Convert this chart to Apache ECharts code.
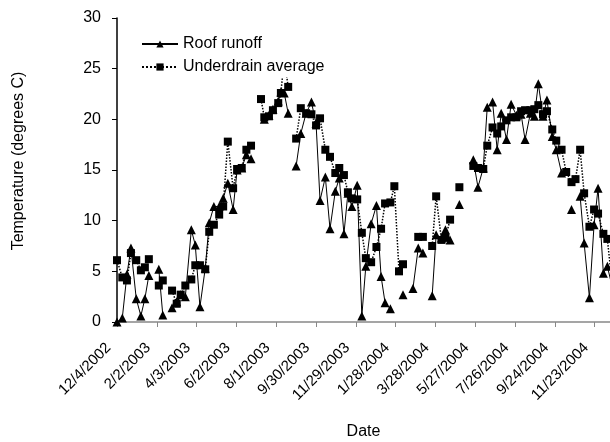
<!DOCTYPE html>
<html>
<head>
<meta charset="utf-8">
<script src="https://cdn.jsdelivr.net/npm/echarts@6/dist/echarts.min.js"></script>
<style>
  html, body { margin: 0; padding: 0; background: #fff; }
  #chart { width: 610px; height: 442px; }
</style>
</head>
<body>
<div id="chart"></div>
<script>
// sampling dates (null rows = breaks in the lines)
const dates = [
  '12/4/2002', '12/12/2002', '12/19/2002', '12/25/2002', '1/2/2003', '1/9/2003', '1/15/2003', '1/21/2003', '1/28/2003',
  '2/5/2003', '2/11/2003', '2/19/2003', '2/25/2003', '3/4/2003', '3/10/2003', '3/17/2003', '3/26/2003', '4/1/2003',
  '4/8/2003', '4/16/2003', '4/22/2003', '4/29/2003', '5/7/2003', '5/13/2003', '5/20/2003', '5/28/2003', '6/3/2003',
  '6/10/2003', '6/17/2003', '6/24/2003', '7/1/2003', '7/9/2003', '7/14/2003', '7/21/2003', '7/27/2003', '8/4/2003',
  '8/8/2003', '8/13/2003', '8/19/2003', '8/25/2003', '8/31/2003', '9/7/2003', '9/15/2003', '9/23/2003', '9/30/2003',
  '10/6/2003', '10/14/2003', '10/21/2003', '10/29/2003', '11/4/2003', '11/11/2003', '11/17/2003', '11/23/2003', '12/1/2003',
  '12/8/2003', '12/14/2003', '12/22/2003', '12/30/2003', '1/6/2004', '1/12/2004', '1/20/2004', '1/26/2004', '2/2/2004',
  '2/8/2004', '2/16/2004', '2/23/2004', '3/2/2004', '3/9/2004', '3/15/2004', '3/23/2004', '3/29/2004', '4/6/2004',
  '4/12/2004', '4/19/2004', '4/27/2004', '5/3/2004', '5/13/2004', '5/24/2004', '5/31/2004', '6/8/2004', '6/14/2004',
  '6/22/2004', '6/29/2004', '7/5/2004', '7/13/2004', '7/20/2004', '7/28/2004', '8/4/2004', '8/10/2004', '8/18/2004',
  '8/24/2004', '8/30/2004', '9/6/2004', '9/12/2004', '9/20/2004', '9/26/2004', '10/4/2004', '10/11/2004', '10/19/2004',
  '10/25/2004', '11/1/2004', '11/7/2004', '11/15/2004', '11/22/2004', '11/28/2004', '12/6/2004', '12/12/2004', '12/21/2004'
]

const roofRunoff = [
  0.0, 0.4, 4.7, 7.3, 2.3, 0.6, 2.3, 4.6, null,
  5.2, 0.7, null, 1.4, 2.0, 2.7, 2.5, 9.1, 7.6,
  1.5, 5.3, 9.8, 11.4, 11.4, 12.2, 13.7, 11.1, 15.0,
  15.2, 16.5, 16.1, null, null, 20.0, 20.4, 21.0, 21.8,
  22.7, 22.6, 20.6, null, 15.4, 18.6, 20.6, 21.7, 19.6,
  12.0, 14.3, 9.2, 12.9, 14.2, 8.7, 12.7, 11.4, 13.5,
  0.6, 5.5, 9.7, 11.5, 4.5, 1.9, 1.3, null, null,
  2.7, null, 3.3, 7.3, 6.8, null, 2.6, 8.6, 8.3,
  9.1, 8.1, null, 11.6, null, 16.0, 13.3, 15.2, 21.2,
  21.7, 17.0, 20.6, 18.0, 21.5, 20.4, 20.5, 18.0, 20.6,
  20.3, 23.5, 20.3, 21.9, 18.3, 17.0, 14.7, null, 11.1,
  null, 12.4, 7.8, 2.4, 9.6, 13.2, 4.8, 5.5, 3.0
]

const underdrainAvg = [
  6.1, 4.4, 4.1, 6.8, 6.1, 5.1, 5.4, 6.2, null,
  3.6, 4.1, null, 3.1, 1.8, 2.7, 3.6, 4.2, 5.6,
  5.6, 5.2, 8.9, 9.6, 10.6, 11.4, 17.8, 13.2, 15.1,
  15.2, 17.0, 17.4, null, 22.0, 20.2, 20.3, 20.9, 21.6,
  22.6, 26.0, 23.2, null, 18.1, 21.1, 20.6, 20.5, 19.4,
  20.1, 17.0, 16.3, 14.7, 15.2, 14.5, 12.8, 12.2, 12.1,
  8.8, 6.3, 5.9, 7.4, 9.2, 11.7, 11.8, 13.4, 5.0,
  5.7, null, null, 8.4, 8.4, null, 7.5, 12.4, 8.1,
  8.3, 10.1, null, 13.3, null, 15.4, 15.2, 15.1, 17.4,
  19.2, 18.6, 19.3, 19.9, 20.2, 20.2, 20.8, 20.9, 20.9,
  21.0, 21.4, 20.5, 20.8, 19.0, 17.9, 17.0, 14.8, 13.8,
  14.1, 17.0, 12.7, 9.4, 11.1, 10.7, 8.7, 8.2, 2.6
]

const startDate = '12/4/2002'
const xTickDays = 60
const xMaxDays = 743
const yTicks = [0, 5, 10, 15, 20, 25, 30]

const DAY = 86400000
function parseDate(s) {
  const p = s.split('/').map(Number)
  return Date.UTC(p[2], p[0] - 1, p[1])
}
const t0 = parseDate(startDate)
function dayOf(s) {
  return Math.round((parseDate(s) - t0) / DAY)
}
function fmtDay(v) {
  const d = new Date(t0 + v * DAY)
  return (d.getUTCMonth() + 1) + '/' + d.getUTCDate() + '/' + d.getUTCFullYear()
}

const days = dates.map(dayOf)
const roofData = days.map((d, i) => [d, roofRunoff[i]])
const underData = days.map((d, i) => [d, underdrainAvg[i]])

const font = 'Liberation Sans, Arial, sans-serif'
const chart = echarts.init(document.getElementById('chart'))
chart.setOption({
  animation: false,
  backgroundColor: '#fff',
  textStyle: { fontFamily: font, color: '#000' },
  grid: {
    left: 117,
    right: 0,
    top: 18,
    bottom: 120,
    outerBoundsMode: 'none'
  },
  legend: {
    orient: 'vertical',
    left: 137,
    top: 34,
    itemWidth: 36,
    itemHeight: 9,
    itemGap: 7,
    padding: [2, 4],
    backgroundColor: '#fff',
    z: 10,
    textStyle: { fontFamily: font, fontSize: 16, color: '#000' },
    data: ['Roof runoff', 'Underdrain average']
  },
  xAxis: {
    type: 'value',
    min: 0,
    max: xMaxDays,
    interval: xTickDays,
    name: 'Date',
    nameLocation: 'middle',
    nameGap: 102,
    nameTextStyle: { fontFamily: font, fontSize: 16, color: '#000' },
    axisLine: { lineStyle: { color: '#888', width: 1.5 } },
    axisTick: { show: true, length: 5, lineStyle: { color: '#888' } },
    splitLine: { show: false },
    axisLabel: {
      rotate: 45,
      fontSize: 15,
      color: '#000',
      margin: 15,
      padding: [0, 12, 0, 0],
      showMaxLabel: false,
      formatter: v => (v % xTickDays === 0 ? fmtDay(v) : '')
    }
  },
  yAxis: {
    type: 'value',
    min: yTicks[0],
    max: yTicks[yTicks.length - 1],
    interval: 5,
    name: 'Temperature (degrees C)',
    nameLocation: 'middle',
    nameGap: 90,
    nameTextStyle: { fontFamily: font, fontSize: 16, color: '#000', padding: [0, 0, 0, 18] },
    axisLine: { show: true, lineStyle: { color: '#000', width: 1.5 } },
    axisTick: { show: true, inside: false, length: 5, lineStyle: { color: '#000' } },
    splitLine: { show: false },
    axisLabel: { fontSize: 16, color: '#000', margin: 16 }
  },
  series: [
    {
      name: 'Roof runoff',
      type: 'line',
      data: roofData,
      symbol: 'triangle',
      symbolSize: 9,
      showAllSymbol: true,
      connectNulls: false,
      itemStyle: { color: '#000' },
      lineStyle: { color: '#000', width: 1 }
    },
    {
      name: 'Underdrain average',
      type: 'line',
      data: underData,
      symbol: 'rect',
      symbolSize: 8,
      showAllSymbol: true,
      connectNulls: false,
      itemStyle: { color: '#000' },
      lineStyle: { color: '#000', width: 1.5, type: 'dotted' }
    }
  ]
})
</script>
</body>
</html>
